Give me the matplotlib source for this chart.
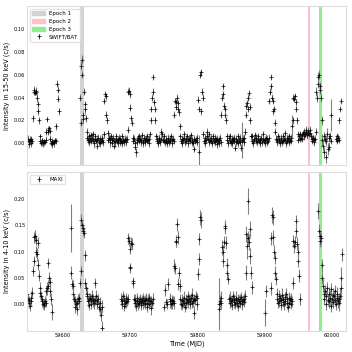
import matplotlib
matplotlib.use("Agg")
import matplotlib.pyplot as plt
import matplotlib.patches as mpatches

# SWIFT/BAT 15-50 keV light curve
bat_mjd = [
    59548, 59549, 59550, 59551, 59552, 59553, 59554, 59555, 59556, 59557,
    59558, 59559, 59560, 59561, 59562, 59563, 59564, 59565, 59566, 59567,
    59568, 59569, 59570, 59571, 59572, 59573, 59574, 59575, 59576, 59577,
    59578, 59579, 59580, 59581, 59582, 59583, 59584, 59585, 59586, 59587,
    59588, 59589, 59590, 59591, 59592, 59593, 59594, 59595,
    59626.5, 59627, 59628, 59628.5, 59629, 59630, 59631, 59632, 59633, 59634,
    59635, 59636, 59637, 59638, 59639, 59640, 59641, 59642, 59643, 59644,
    59645, 59646, 59647, 59648, 59649, 59650, 59651, 59652, 59653, 59654,
    59655, 59656, 59657, 59658, 59659, 59660, 59661, 59662, 59663, 59664,
    59665, 59666, 59667, 59668, 59669, 59670, 59671, 59672, 59673, 59674,
    59675, 59676, 59677, 59678, 59679, 59680, 59681, 59682, 59683, 59684,
    59685, 59686, 59687, 59688, 59689, 59690, 59691, 59692, 59693, 59694,
    59695, 59696, 59697, 59698, 59699, 59700, 59701, 59702, 59703, 59704,
    59705, 59706, 59707, 59708, 59709, 59710, 59711, 59712, 59713, 59714,
    59715, 59716, 59717, 59718, 59719, 59720, 59721, 59722, 59723, 59724,
    59725, 59726, 59727, 59728, 59729, 59730, 59731, 59732, 59733, 59734,
    59735, 59736, 59737, 59738, 59739, 59740, 59741, 59742, 59743, 59744,
    59745, 59746, 59747, 59748, 59749, 59750, 59751, 59752, 59753, 59754,
    59755, 59756, 59757, 59758, 59759, 59760, 59761, 59762, 59763, 59764,
    59765, 59766, 59767, 59768, 59769, 59770, 59771, 59772, 59773, 59774,
    59775, 59776, 59777, 59778, 59779, 59780, 59781, 59782, 59783, 59784,
    59785, 59786, 59787, 59788, 59789, 59790, 59791, 59792, 59793, 59794,
    59795, 59796, 59797, 59798, 59799, 59800, 59801, 59802, 59803, 59804,
    59805, 59806, 59807, 59808, 59809, 59810, 59811, 59812, 59813, 59814,
    59815, 59816, 59817, 59818, 59819, 59820, 59821, 59822, 59823, 59824,
    59825, 59826, 59827, 59828, 59829, 59830, 59831, 59832, 59833, 59834,
    59835, 59836, 59837, 59838, 59839, 59840, 59841, 59842, 59843, 59844,
    59845, 59846, 59847, 59848, 59849, 59850, 59851, 59852, 59853, 59854,
    59855, 59856, 59857, 59858, 59859, 59860, 59861, 59862, 59863, 59864,
    59865, 59866, 59867, 59868, 59869, 59870, 59871, 59872, 59873, 59874,
    59875, 59876, 59877, 59878, 59879, 59880, 59881, 59882, 59883, 59884,
    59885, 59886, 59887, 59888, 59889, 59890, 59891, 59892, 59893, 59894,
    59895, 59896, 59897, 59898, 59899, 59900, 59901, 59902, 59903, 59904,
    59905, 59906, 59907, 59908, 59909, 59910, 59911, 59912, 59913, 59914,
    59915, 59916, 59917, 59918, 59919, 59920, 59921, 59922, 59923, 59924,
    59925, 59926, 59927, 59928, 59929, 59930, 59931, 59932, 59933, 59934,
    59935, 59936, 59937, 59938, 59939, 59940, 59941, 59942, 59943, 59944,
    59945, 59946, 59947, 59948, 59949, 59950, 59951, 59952, 59953, 59954,
    59955, 59956, 59957, 59958, 59959, 59960, 59961, 59962, 59963, 59964,
    59965, 59966, 59967, 59968, 59969, 59970, 59971, 59972, 59973, 59974,
    59975, 59976, 59977, 59978, 59979, 59980, 59981, 59982, 59983, 59984,
    59985, 59986, 59987, 59988, 59989, 59990, 59991, 59992, 59993, 59994,
    59995, 59996, 59997, 59998, 59999, 60006, 60007, 60008, 60009, 60010,
    60011, 60012, 60013,
]
bat_rate = [
    0.001, 0.004, -0.001, 0.002, 0.003, 0.000, 0.004, 0.002, 0.022, 0.045,
    0.047, 0.044, 0.046, 0.045, 0.040, 0.034, 0.028, 0.020, 0.006, 0.002,
    0.000, 0.001, 0.003, 0.000, 0.002, 0.001, 0.001, 0.003, 0.010, 0.021,
    0.012, 0.010, 0.013, 0.011, 0.004, 0.000, -0.001, 0.002, 0.001, 0.001,
    0.000, 0.003, 0.002, 0.015, 0.052, 0.047, 0.039, 0.028,
    0.040, 0.018, 0.068, 0.073, 0.060, 0.025, 0.021, 0.045, 0.034, 0.030,
    0.022, 0.010, 0.005, 0.003, 0.006, 0.001, 0.004, 0.007, 0.002, 0.005,
    0.008, 0.003, 0.000, 0.004, 0.006, 0.002, -0.002, 0.003, 0.005, 0.001,
    0.004, 0.000, 0.002, 0.005, 0.003, 0.001, 0.008, 0.037, 0.043, 0.041,
    0.025, 0.020, 0.009, 0.003, 0.005, 0.001, 0.004, 0.006, 0.000, 0.003,
    0.005, 0.002, -0.002, 0.001, 0.004, 0.006, 0.002, 0.000, 0.003, 0.005,
    0.001, 0.004, 0.002, 0.006, 0.000, 0.003, 0.001, 0.002, 0.004, 0.001,
    0.003, 0.004, 0.012, 0.045, 0.046, 0.043, 0.031, 0.022, 0.018, 0.005,
    0.002, 0.004, 0.000, -0.003, -0.008, 0.001, 0.003, 0.005, 0.002, 0.006,
    0.004, 0.001, 0.003, 0.007, 0.002, 0.000, 0.005, 0.003, 0.001, 0.004,
    0.002, 0.006, 0.003, 0.000, 0.004, 0.008, 0.020, 0.030, 0.040, 0.058,
    0.045, 0.036, 0.030, 0.020, 0.006, 0.002, 0.004, 0.000, 0.003, 0.005,
    0.001, 0.004, 0.010, 0.008, 0.003, 0.002, 0.006, 0.001, 0.004, 0.002,
    0.000, 0.003, 0.005, 0.001, 0.004, 0.002, 0.006, 0.003, 0.000, 0.004,
    0.002, 0.025, 0.037, 0.036, 0.032, 0.040, 0.035, 0.030, 0.027, 0.015,
    0.006, 0.002, 0.004, 0.000, 0.003, 0.008, 0.005, 0.001, 0.004, 0.002,
    0.006, 0.003, 0.000, 0.004, 0.002, 0.005, 0.007, 0.001, 0.003, 0.000,
    0.004, -0.005, 0.002, 0.003, 0.001, 0.005, 0.038, -0.008, 0.030, 0.060,
    0.062, 0.028, 0.045, 0.040, 0.008, 0.002, 0.005, 0.000, 0.003, 0.006,
    0.010, 0.004, 0.001, 0.008, 0.003, 0.005, 0.002, 0.000, 0.004, 0.006,
    0.002, 0.001, 0.005, 0.003, -0.001, 0.004, 0.002, 0.000, 0.003, 0.005,
    0.001, 0.025, 0.040, 0.043, 0.050, 0.033, 0.030, 0.025, 0.020, 0.006,
    0.003, 0.000, 0.005, 0.002, 0.006, 0.001, 0.004, 0.000, 0.003, 0.002,
    0.005, -0.004, 0.001, 0.004, 0.002, 0.006, 0.000, 0.003, 0.005, 0.001,
    -0.004, 0.002, 0.003, 0.004, 0.001, 0.005, 0.010, 0.025, 0.033, 0.035,
    0.030, 0.040, 0.044, 0.032, 0.020, 0.006, 0.002, 0.006, 0.000, 0.004,
    0.003, 0.007, 0.002, 0.005, 0.001, 0.004, 0.006, 0.002, 0.000, 0.003,
    0.005, 0.001, 0.004, 0.008, 0.002, 0.000, 0.003, 0.005, 0.001, 0.004,
    0.002, 0.005, 0.037, 0.045, 0.050, 0.058, 0.040, 0.037, 0.028, 0.030,
    0.018, 0.010, 0.004, 0.001, 0.003, 0.006, 0.002, 0.004, 0.000, 0.005,
    0.003, 0.001, 0.006, 0.002, 0.004, 0.009, 0.003, 0.000, 0.005, 0.002,
    0.004, 0.006, 0.001, 0.003, 0.005, 0.002, 0.015, 0.020, 0.040, 0.039,
    0.041, 0.036, 0.030, 0.020, 0.008, 0.003, 0.006, 0.004, 0.008, 0.005,
    0.007, 0.004, 0.009, 0.006, 0.010, 0.008, 0.012, 0.010, 0.007, 0.009,
    0.011, 0.008, 0.012, 0.009, 0.006, 0.004, 0.002, 0.005, 0.003, 0.001,
    0.004, 0.010, 0.045, 0.040, 0.052, 0.058, 0.060, 0.050, 0.047, 0.040,
    0.020, 0.003, -0.002, 0.006, -0.008, 0.004, -0.012, 0.002, 0.008, -0.005,
    0.005, -0.003, 0.006, 0.002, 0.025, 0.004, 0.006, 0.002, 0.005, 0.003,
    0.020, 0.030, 0.037,
]
bat_err = [
    0.003, 0.003, 0.003, 0.002, 0.003, 0.003, 0.002, 0.003, 0.003, 0.003,
    0.003, 0.002, 0.003, 0.003, 0.004, 0.003, 0.003, 0.003, 0.002, 0.003,
    0.002, 0.003, 0.002, 0.003, 0.002, 0.003, 0.002, 0.003, 0.003, 0.002,
    0.003, 0.003, 0.002, 0.003, 0.003, 0.002, 0.003, 0.003, 0.002, 0.003,
    0.003, 0.002, 0.003, 0.003, 0.003, 0.003, 0.003, 0.003,
    0.003, 0.003, 0.004, 0.004, 0.003, 0.003, 0.003, 0.003, 0.003, 0.004,
    0.003, 0.003, 0.003, 0.004, 0.003, 0.003, 0.004, 0.003, 0.003, 0.004,
    0.003, 0.003, 0.004, 0.003, 0.003, 0.003, 0.003, 0.004, 0.003, 0.003,
    0.003, 0.003, 0.003, 0.003, 0.004, 0.003, 0.003, 0.003, 0.003, 0.003,
    0.003, 0.003, 0.003, 0.003, 0.003, 0.004, 0.003, 0.003, 0.003, 0.003,
    0.003, 0.003, 0.003, 0.004, 0.003, 0.003, 0.003, 0.003, 0.003, 0.003,
    0.003, 0.003, 0.003, 0.003, 0.003, 0.003, 0.003, 0.003, 0.003, 0.003,
    0.003, 0.003, 0.003, 0.003, 0.003, 0.003, 0.003, 0.003, 0.003, 0.003,
    0.003, 0.003, 0.003, 0.003, 0.004, 0.003, 0.003, 0.003, 0.003, 0.003,
    0.003, 0.003, 0.003, 0.003, 0.003, 0.003, 0.003, 0.003, 0.003, 0.003,
    0.003, 0.003, 0.003, 0.003, 0.003, 0.003, 0.003, 0.003, 0.003, 0.003,
    0.003, 0.003, 0.003, 0.003, 0.003, 0.003, 0.003, 0.003, 0.003, 0.003,
    0.003, 0.003, 0.003, 0.003, 0.003, 0.003, 0.003, 0.003, 0.003, 0.003,
    0.003, 0.003, 0.003, 0.003, 0.003, 0.003, 0.003, 0.003, 0.003, 0.003,
    0.003, 0.003, 0.003, 0.003, 0.003, 0.003, 0.003, 0.003, 0.003, 0.003,
    0.003, 0.003, 0.003, 0.003, 0.003, 0.003, 0.003, 0.003, 0.003, 0.003,
    0.003, 0.003, 0.003, 0.003, 0.003, 0.003, 0.003, 0.003, 0.003, 0.003,
    0.003, 0.003, 0.003, 0.003, 0.003, 0.003, 0.003, 0.015, 0.003, 0.003,
    0.003, 0.003, 0.003, 0.003, 0.003, 0.003, 0.003, 0.003, 0.003, 0.003,
    0.003, 0.003, 0.003, 0.003, 0.003, 0.003, 0.003, 0.003, 0.003, 0.003,
    0.003, 0.003, 0.003, 0.003, 0.003, 0.003, 0.003, 0.003, 0.003, 0.003,
    0.003, 0.003, 0.003, 0.003, 0.003, 0.003, 0.003, 0.003, 0.003, 0.003,
    0.003, 0.003, 0.003, 0.003, 0.003, 0.003, 0.003, 0.003, 0.003, 0.003,
    0.003, 0.003, 0.003, 0.003, 0.003, 0.003, 0.003, 0.003, 0.003, 0.003,
    0.003, 0.003, 0.016, 0.003, 0.003, 0.003, 0.003, 0.003, 0.003, 0.003,
    0.003, 0.003, 0.003, 0.003, 0.003, 0.003, 0.003, 0.003, 0.003, 0.003,
    0.003, 0.003, 0.003, 0.003, 0.003, 0.003, 0.003, 0.003, 0.003, 0.003,
    0.003, 0.003, 0.003, 0.003, 0.003, 0.003, 0.003, 0.003, 0.003, 0.003,
    0.003, 0.003, 0.003, 0.003, 0.003, 0.003, 0.003, 0.003, 0.003, 0.003,
    0.003, 0.003, 0.003, 0.003, 0.003, 0.003, 0.003, 0.003, 0.003, 0.003,
    0.003, 0.003, 0.003, 0.003, 0.003, 0.003, 0.003, 0.003, 0.003, 0.003,
    0.003, 0.003, 0.003, 0.003, 0.003, 0.003, 0.010, 0.003, 0.003, 0.003,
    0.003, 0.003, 0.003, 0.003, 0.003, 0.003, 0.003, 0.003, 0.003, 0.003,
    0.003, 0.003, 0.003, 0.003, 0.003, 0.003, 0.003, 0.003, 0.003, 0.003,
    0.003, 0.003, 0.003, 0.003, 0.003, 0.003, 0.003, 0.003, 0.003, 0.003,
    0.003, 0.003, 0.004, 0.004, 0.004, 0.004, 0.004, 0.004, 0.004, 0.004,
    0.004, 0.005, 0.005, 0.004, 0.005, 0.004, 0.005, 0.004, 0.005, 0.005,
    0.004, 0.004, 0.004, 0.003, 0.014, 0.003, 0.003, 0.003, 0.003, 0.003,
    0.003, 0.003, 0.003,
]

# MAXI 4-10 keV light curve
maxi_mjd = [
    59548, 59549, 59550, 59551, 59552, 59553, 59554, 59555, 59556, 59557,
    59558, 59559, 59560, 59561, 59562, 59563, 59564, 59565, 59566, 59567,
    59568, 59569, 59570, 59571, 59572, 59573, 59574, 59575, 59576, 59577,
    59578, 59579, 59580, 59581, 59582, 59583, 59584,
    59612, 59613, 59614, 59615, 59616, 59617, 59618, 59619, 59620, 59621,
    59622, 59623, 59624, 59625, 59626, 59627, 59628, 59629, 59630, 59631,
    59632, 59633, 59634, 59635, 59636, 59637, 59638, 59639, 59640, 59641,
    59642, 59643, 59644, 59645, 59646, 59647, 59648, 59649, 59650, 59651,
    59652, 59653, 59654, 59655, 59656, 59657, 59658, 59659,
    59687, 59688, 59689, 59690, 59691, 59692, 59693, 59694, 59695, 59696,
    59697, 59698, 59699, 59700, 59700.5, 59701, 59702, 59703, 59704, 59705,
    59706, 59707, 59708, 59709, 59710, 59711, 59712, 59713, 59714, 59715,
    59716, 59717, 59718, 59719, 59720, 59721, 59722, 59723, 59724, 59725,
    59726, 59727, 59728, 59729, 59730, 59731, 59732, 59733, 59734,
    59751, 59752, 59754, 59755, 59757, 59759, 59760, 59761, 59762, 59763,
    59764, 59765, 59766, 59767, 59768, 59769, 59770, 59771, 59772, 59773,
    59774, 59775, 59776, 59777, 59778, 59779, 59780, 59781, 59782, 59783,
    59784, 59785, 59786, 59787, 59788, 59789, 59790, 59791, 59792, 59793,
    59794, 59795, 59796, 59797, 59798, 59799, 59800, 59801, 59802, 59803,
    59804, 59805,
    59832, 59833, 59834, 59835, 59836, 59837, 59838, 59839, 59840, 59841,
    59842, 59843, 59844, 59845, 59846, 59847, 59848, 59849, 59850, 59851,
    59852, 59853, 59854, 59855, 59856, 59857, 59858, 59859, 59860, 59861,
    59862, 59863, 59864, 59865, 59866, 59867, 59868, 59869, 59870, 59871,
    59872, 59873, 59874, 59875, 59876, 59877, 59878, 59879, 59880, 59882,
    59900, 59902, 59909, 59910, 59911, 59912, 59913, 59914, 59915, 59916,
    59917, 59918, 59919, 59920, 59921, 59922, 59923, 59924, 59925, 59926,
    59927, 59928, 59929, 59930, 59931, 59932, 59933, 59934, 59935, 59936,
    59937, 59938, 59939, 59940, 59941, 59942, 59943, 59944, 59945, 59946,
    59947, 59948, 59949, 59950, 59951, 59953,
    59980, 59981, 59982, 59983, 59984, 59985, 59986, 59987, 59988, 59989,
    59990, 59991, 59992, 59993, 59994, 59995, 59996, 59997, 59998, 59999,
    60000, 60001, 60002, 60003, 60004, 60005, 60006, 60007, 60008, 60009,
    60010, 60011, 60012, 60013, 60014, 60015,
]
maxi_rate = [
    0.020, 0.010, 0.002, 0.008, -0.003, 0.012, 0.005, 0.022, 0.063, 0.082,
    0.127, 0.130, 0.122, 0.100, 0.095, 0.117, 0.075, 0.054, 0.022, 0.030,
    0.015, 0.010, 0.005, 0.000, 0.002, -0.002, 0.005, 0.003, 0.025, 0.030,
    0.078, 0.035, 0.050, 0.042, 0.025, 0.010, -0.015,
    0.145, 0.060, 0.038, 0.035, 0.020, 0.010, 0.005, -0.005, 0.000, -0.010,
    0.003, 0.010, 0.005, 0.012, 0.040, 0.063, 0.160, 0.150, 0.140, 0.145,
    0.135, 0.093, 0.040, 0.030, 0.015, 0.020, 0.005, 0.010, -0.002, 0.012,
    0.008, 0.000, 0.015, 0.005, 0.010, 0.002, 0.040, 0.008, 0.015, 0.000,
    0.005, 0.010, -0.005, 0.002, -0.010, -0.020, -0.005, -0.045,
    0.010, 0.000, 0.005, 0.015, -0.003, 0.008, 0.002, 0.012, 0.004, 0.006,
    0.010, 0.125, 0.120, 0.070, 0.105, 0.068, 0.117, 0.115, 0.044, 0.040,
    0.010, 0.002, 0.008, -0.003, 0.005, 0.012, 0.000, 0.006, 0.003, 0.010,
    0.004, -0.002, 0.008, 0.002, 0.012, 0.005, 0.000, 0.007, 0.010, -0.005,
    0.003, 0.008, 0.000, 0.012, 0.005, -0.008, 0.006, 0.002, 0.010,
    -0.005, 0.027, 0.004, 0.000, 0.038, 0.005, 0.010, 0.000, 0.008, 0.002,
    0.006, 0.003, 0.073, 0.068, 0.120, 0.118, 0.152, 0.127, 0.038, 0.060,
    0.035, 0.010, 0.000, 0.008, -0.002, 0.005, 0.012, 0.003, -0.005, 0.010,
    0.002, 0.008, 0.015, 0.004, 0.010, 0.000, 0.006, 0.012, 0.003, 0.018,
    0.005, 0.010, -0.016, 0.008, 0.015, 0.000, 0.012, 0.057, 0.086, 0.124,
    0.165, 0.160,
    0.000, -0.010, 0.005, 0.012, 0.002, 0.108, 0.083, 0.100, 0.118, 0.145,
    0.148, 0.117, 0.075, 0.060, 0.048, 0.010, 0.002, 0.012, 0.005, -0.002,
    0.008, 0.015, 0.004, 0.010, 0.000, 0.007, 0.012, 0.003, 0.009, -0.003,
    0.006, 0.010, 0.002, 0.013, 0.005, 0.000, 0.008, 0.004, 0.010, 0.015,
    0.060, 0.133, 0.110, 0.197, 0.125, 0.118, 0.092, 0.143, 0.060, 0.032,
    -0.016, 0.025, 0.030, 0.125, 0.170, 0.165, 0.127, 0.100, 0.088, 0.060,
    0.048, 0.020, 0.010, 0.002, 0.015, 0.005, 0.012, -0.002, 0.008, 0.018,
    0.004, 0.010, 0.000, 0.013, 0.006, 0.020, 0.002, 0.009, -0.005, 0.011,
    0.003, 0.008, 0.000, 0.010, 0.005, 0.040, 0.120, 0.110, 0.118, 0.158,
    0.140, 0.115, 0.100, 0.083, 0.054, 0.010,
    0.178, 0.140, 0.130, 0.120, 0.125, 0.074, 0.050, 0.035, 0.020, 0.010,
    0.025, 0.000, 0.015, 0.030, 0.008, 0.020, 0.005, 0.012, 0.028, -0.003,
    0.010, 0.018, 0.004, 0.015, 0.025, 0.008, 0.000, 0.012, 0.020, 0.005,
    0.010, 0.002, 0.015, 0.050, 0.030, 0.095,
]
maxi_err = [
    0.012, 0.010, 0.010, 0.008, 0.010, 0.012, 0.008, 0.010, 0.010, 0.010,
    0.010, 0.012, 0.010, 0.010, 0.012, 0.010, 0.010, 0.010, 0.010, 0.012,
    0.010, 0.008, 0.010, 0.010, 0.008, 0.010, 0.010, 0.008, 0.010, 0.012,
    0.010, 0.010, 0.012, 0.010, 0.012, 0.012, 0.015,
    0.045, 0.012, 0.010, 0.010, 0.012, 0.010, 0.010, 0.012, 0.010, 0.010,
    0.010, 0.010, 0.012, 0.010, 0.010, 0.010, 0.012, 0.010, 0.010, 0.010,
    0.010, 0.010, 0.010, 0.010, 0.010, 0.012, 0.010, 0.012, 0.010, 0.010,
    0.012, 0.010, 0.012, 0.010, 0.010, 0.012, 0.010, 0.010, 0.012, 0.010,
    0.012, 0.010, 0.010, 0.012, 0.012, 0.012, 0.012, 0.012,
    0.012, 0.010, 0.012, 0.010, 0.010, 0.012, 0.010, 0.010, 0.012, 0.010,
    0.010, 0.010, 0.010, 0.008, 0.010, 0.008, 0.010, 0.010, 0.008, 0.010,
    0.010, 0.010, 0.012, 0.010, 0.010, 0.010, 0.012, 0.010, 0.010, 0.010,
    0.010, 0.010, 0.010, 0.012, 0.010, 0.010, 0.010, 0.010, 0.012, 0.010,
    0.010, 0.012, 0.010, 0.010, 0.010, 0.012, 0.010, 0.010, 0.012,
    0.008, 0.012, 0.008, 0.010, 0.012, 0.012, 0.012, 0.010, 0.010, 0.012,
    0.010, 0.012, 0.012, 0.010, 0.012, 0.010, 0.012, 0.012, 0.012, 0.010,
    0.012, 0.010, 0.010, 0.012, 0.010, 0.010, 0.012, 0.010, 0.010, 0.010,
    0.012, 0.010, 0.010, 0.012, 0.010, 0.010, 0.012, 0.010, 0.010, 0.012,
    0.010, 0.010, 0.012, 0.010, 0.010, 0.012, 0.010, 0.012, 0.012, 0.012,
    0.015, 0.015,
    0.050, 0.015, 0.012, 0.012, 0.012, 0.015, 0.012, 0.012, 0.012, 0.012,
    0.012, 0.012, 0.012, 0.012, 0.010, 0.010, 0.010, 0.012, 0.010, 0.010,
    0.010, 0.010, 0.012, 0.010, 0.010, 0.010, 0.012, 0.010, 0.010, 0.010,
    0.012, 0.010, 0.010, 0.010, 0.010, 0.012, 0.010, 0.010, 0.012, 0.012,
    0.015, 0.015, 0.025, 0.025, 0.015, 0.015, 0.015, 0.015, 0.012, 0.012,
    0.025, 0.012, 0.012, 0.012, 0.015, 0.015, 0.015, 0.012, 0.012, 0.012,
    0.012, 0.010, 0.010, 0.010, 0.012, 0.010, 0.010, 0.010, 0.010, 0.012,
    0.010, 0.010, 0.012, 0.010, 0.010, 0.010, 0.012, 0.010, 0.010, 0.012,
    0.010, 0.010, 0.010, 0.012, 0.010, 0.012, 0.012, 0.012, 0.012, 0.012,
    0.012, 0.012, 0.012, 0.012, 0.012, 0.012,
    0.015, 0.012, 0.012, 0.012, 0.012, 0.012, 0.012, 0.012, 0.012, 0.012,
    0.012, 0.012, 0.012, 0.012, 0.012, 0.012, 0.012, 0.015, 0.012, 0.012,
    0.012, 0.012, 0.012, 0.012, 0.012, 0.012, 0.012, 0.012, 0.012, 0.012,
    0.012, 0.015, 0.015, 0.020, 0.020, 0.012,
]

# observation epochs (MJD ranges)
epoch_names = ['Epoch 1', 'Epoch 2', 'Epoch 3']
epoch_start = [59626, 59965, 59981]
epoch_end = [59632, 59968, 59985]
epoch_colors = ['lightgray', 'pink', 'lightgreen']

fig = plt.figure(figsize=(3.52, 3.52), dpi=100)
ax1 = fig.add_axes([0.078, 0.531, 0.905, 0.452])
ax2 = fig.add_axes([0.078, 0.060, 0.905, 0.452], sharex=ax1)

for ax in (ax1, ax2):
    for s, e, c in zip(epoch_start, epoch_end, epoch_colors):
        ax.axvspan(s, e, color=c, lw=0, zorder=0)

ax1.errorbar(bat_mjd, bat_rate, yerr=bat_err, fmt='k+', ms=2.2, mew=0.5,
             ecolor='0.5', elinewidth=0.8, capsize=0, label='SWIFT/BAT')
ax2.errorbar(maxi_mjd, maxi_rate, yerr=maxi_err, fmt='k+', ms=2.2, mew=0.5,
             ecolor='0.5', elinewidth=0.8, capsize=0, label='MAXI')

ax1.set_ylim(-0.019, 0.120)
ax2.set_ylim(-0.051, 0.252)
ax1.set_xlim(59548, 60021)
ax1.set_yticks([0.00, 0.02, 0.04, 0.06, 0.08, 0.10])
ax2.set_yticks([0.00, 0.05, 0.10, 0.15, 0.20])
ax2.set_xticks([59600, 59700, 59800, 59900, 60000])
ax1.tick_params(labelbottom=False)

for ax in (ax1, ax2):
    for sp in ax.spines.values():
        sp.set_color('#dddddd')
        sp.set_linewidth(0.8)
    ax.tick_params(length=0, labelsize=3.6, pad=1.5)

ax1.set_ylabel('Intensity in 15-50 keV (c/s)', fontsize=4.7, labelpad=3)
ax2.set_ylabel('Intensity in 4-10 keV (c/s)', fontsize=4.7, labelpad=3)
ax2.set_xlabel('Time (MJD)', fontsize=4.7, labelpad=1.5)

handles = [mpatches.Patch(color=c, label=n) for c, n in zip(epoch_colors, epoch_names)]
h, l = ax1.get_legend_handles_labels()
ax1.legend(handles=handles + h, loc='upper left', fontsize=4, frameon=True,
           edgecolor='#dddddd', handlelength=2.2)
ax2.legend(loc='upper left', fontsize=4, edgecolor='#dddddd', handlelength=2.2)

fig.savefig('out.png', dpi=100)
